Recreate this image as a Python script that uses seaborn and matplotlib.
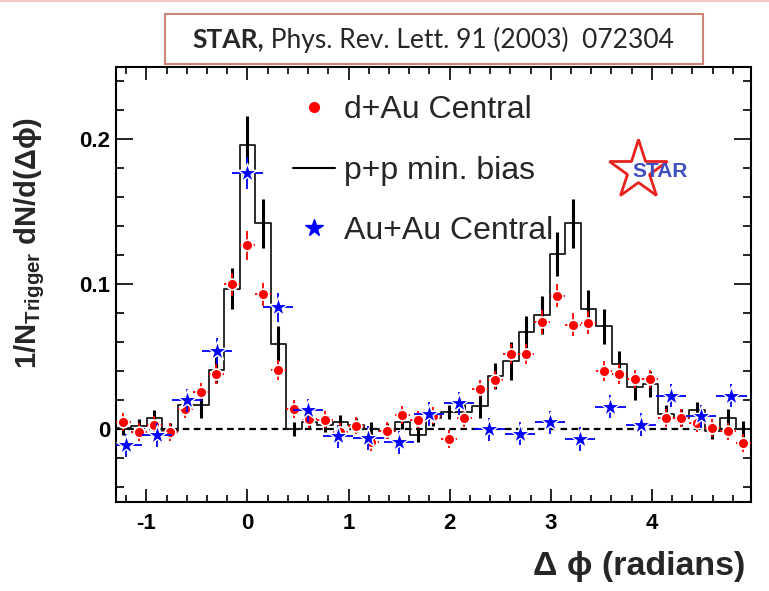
import numpy as np
import pandas as pd
import matplotlib
matplotlib.use("Agg")
import matplotlib.pyplot as plt
import seaborn as sns
from matplotlib.lines import Line2D
from matplotlib.patches import Rectangle
from matplotlib.ticker import MultipleLocator, FixedLocator, FixedFormatter

# ---------------- data ----------------
# p+p min. bias and d+Au central: 41 bins of width 2*pi/41, bin index -8 .. 32
pp_bin_index = list(range(-8, 33))
pp_values = [0.001, 0.002, 0.008, -0.001, 0.017, 0.017, 0.041, 0.097, 0.196, 0.142,
             0.059, 0.000, 0.005, 0.003, 0.005, 0.003, 0.000, -0.001, 0.005, -0.004,
             0.0075, 0.0117, 0.0117, 0.016, 0.037, 0.047, 0.067, 0.079, 0.121, 0.142,
             0.083, 0.071, 0.045, 0.029, 0.031, 0.0105, 0.008, 0.013, -0.001, 0.008,
             0.000]
pp_errors = [0.005, 0.005, 0.005, 0.005, 0.006, 0.009, 0.009, 0.014, 0.020, 0.017,
             0.012, 0.005, 0.005, 0.005, 0.005, 0.005, 0.005, 0.005, 0.005, 0.005,
             0.005, 0.005, 0.006, 0.008, 0.009, 0.013, 0.011, 0.013, 0.015, 0.017,
             0.013, 0.012, 0.009, 0.009, 0.009, 0.006, 0.006, 0.006, 0.006, 0.006,
             0.006]
dau_values = [0.005, -0.002, 0.003, -0.002, 0.014, 0.026, 0.038, 0.100, 0.127, 0.093,
              0.041, 0.014, 0.007, 0.0066, -0.002, 0.0025, -0.009, -0.001, 0.0098, 0.0066,
              0.0093, -0.0067, 0.0078, 0.028, 0.034, 0.052, 0.052, 0.074, 0.092, 0.072,
              0.0735, 0.040, 0.038, 0.0346, 0.0346, 0.0078, 0.0078, 0.004, 0.0007, -0.0014,
              -0.0096]
dau_errors = [0.006, 0.006, 0.006, 0.006, 0.006, 0.006, 0.007, 0.008, 0.010, 0.008,
              0.007, 0.006, 0.006, 0.006, 0.006, 0.006, 0.006, 0.006, 0.006, 0.006,
              0.006, 0.006, 0.006, 0.006, 0.006, 0.007, 0.007, 0.008, 0.008, 0.008,
              0.008, 0.007, 0.007, 0.006, 0.006, 0.006, 0.006, 0.006, 0.006, 0.006,
              0.006]
# Au+Au central: 21 bins of width 2*pi/21, bin index -4 .. 16
auau_bin_index = list(range(-4, 17))
auau_values = [-0.011, -0.004, 0.020, 0.054, 0.177, 0.084, 0.013, -0.005, -0.006, -0.009,
               0.0105, 0.018, 0.000, -0.003, 0.0048, -0.0067, 0.0155, 0.003, 0.023, 0.009,
               0.023]
auau_errors = [0.008, 0.008, 0.008, 0.009, 0.011, 0.010, 0.008, 0.008, 0.008, 0.008,
               0.008, 0.008, 0.008, 0.008, 0.008, 0.008, 0.008, 0.008, 0.008, 0.008,
               0.008]

legend_labels = ["d+Au Central", "p+p min. bias", "Au+Au Central"]
x_ticks = [-1, 0, 1, 2, 3, 4]
x_tick_labels = ["-1", "0", "1", "2", "3", "4"]
y_ticks = [0.0, 0.1, 0.2]
y_tick_labels = ["0", "0.1", "0.2"]
title_bold = "STAR,"
title_rest = " Phys. Rev. Lett. 91 (2003)  072304"
x_label = "\u0394 \u03d5 (radians)"
y_label = "1/N$_{\\mathbf{Trigger}}$ dN/d(\u0394\u03d5)"
logo_text = "STAR"

# ---------------- derived tables ----------------
w_fine = 2 * np.pi / 41
w_coarse = 2 * np.pi / 21
fine = pd.DataFrame({"x": np.array(pp_bin_index) * w_fine,
                     "pp": pp_values, "pp_err": pp_errors,
                     "dau": dau_values, "dau_err": dau_errors})
coarse = pd.DataFrame({"x": np.array(auau_bin_index) * w_coarse,
                       "auau": auau_values, "auau_err": auau_errors})
edges = np.append(fine["x"].values - w_fine / 2, fine["x"].values[-1] + w_fine / 2)
steps = pd.DataFrame({"edge": edges, "level": np.append(fine["pp"].values, fine["pp"].values[-1])})

# ---------------- style ----------------
sns.set_theme(style="ticks")
plt.rcParams["font.family"] = ["Liberation Sans", "DejaVu Sans"]
plt.rcParams["mathtext.fontset"] = "custom"
plt.rcParams["mathtext.rm"] = "Liberation Sans"
plt.rcParams["mathtext.bf"] = "Liberation Sans:bold"
plt.rcParams["mathtext.it"] = "Liberation Sans:italic"

fig = plt.figure(figsize=(7.69, 5.91), dpi=100)
ax = fig.add_axes([0.1505, 0.1511, 0.8261, 0.736])

# p+p histogram
sns.lineplot(data=steps, x="edge", y="level", drawstyle="steps-post", estimator=None,
             sort=False, color="#1a1a1a", linewidth=1.3, ax=ax, zorder=2)
ax.errorbar(fine["x"], fine["pp"], yerr=fine["pp_err"], fmt="none", ecolor="black",
            elinewidth=2.2, capsize=0, zorder=3)

# zero line
ax.axhline(0, color="black", lw=1.6, ls=(0, (3, 2)), zorder=1)

# d+Au
ax.errorbar(fine["x"], fine["dau"], xerr=w_fine / 2, yerr=fine["dau_err"], fmt="none",
            ecolor="red", elinewidth=1.3, capsize=0, zorder=4)
sns.scatterplot(data=fine, x="x", y="dau", color="red", marker="o", s=60,
                edgecolor="white", linewidth=1.2, ax=ax, zorder=5)

# Au+Au
ax.errorbar(coarse["x"], coarse["auau"], xerr=w_coarse / 2, yerr=coarse["auau_err"],
            fmt="none", ecolor="blue", elinewidth=1.3, capsize=0, zorder=6)
sns.scatterplot(data=coarse, x="x", y="auau", color="blue", marker="*", s=210,
                edgecolor="white", linewidth=1.0, ax=ax, zorder=7)

# axes ranges and ticks
ax.set_xlim(-8.5 * w_fine, 32.5 * w_fine)
ax.set_ylim(-0.05, 0.25)
ax.xaxis.set_major_locator(FixedLocator(x_ticks))
ax.xaxis.set_major_formatter(FixedFormatter(x_tick_labels))
ax.xaxis.set_minor_locator(MultipleLocator(0.2))
ax.yaxis.set_major_locator(FixedLocator(y_ticks))
ax.yaxis.set_major_formatter(FixedFormatter(y_tick_labels))
ax.yaxis.set_minor_locator(MultipleLocator(0.02))
ax.tick_params(which="both", direction="in", top=True, right=True, colors="black",
               width=1.2)
ax.tick_params(axis="x", which="major", length=9.5, pad=8, labelsize=16)
ax.tick_params(axis="x", which="minor", length=5)
ax.tick_params(axis="y", which="major", length=12, pad=4, labelsize=16)
ax.tick_params(axis="y", which="minor", length=6)
for lab in ax.get_xticklabels() + ax.get_yticklabels():
    lab.set_fontweight("bold")
for sp in ax.spines.values():
    sp.set_linewidth(1.5)
    sp.set_color("black")

ax.set_xlabel(x_label, fontsize=24.5, fontweight="bold", ha="right")
ax.xaxis.set_label_coords(0.9906, -0.150)
ax.xaxis.label.set_va("center")
ax.set_ylabel(y_label, fontsize=21, fontweight="bold")
ax.yaxis.set_label_coords(-0.135, 0.596)
ax.yaxis.label.set_va("center")

# legend
handles = [Line2D([], [], color="red", marker="o", ls="none", markersize=7),
           Line2D([], [], color="black", lw=1.5),
           Line2D([], [], color="blue", marker="*", ls="none", markersize=13)]
ax.legend(handles, legend_labels, loc="upper left", bbox_to_anchor=(0.2785, 0.934),
          frameon=False, fontsize=23, borderpad=0, borderaxespad=0,
          labelspacing=0.95, handlelength=1.32, handletextpad=0.28)

# STAR logo
ax.plot([0.8214], [0.7616], transform=ax.transAxes, marker="*", markersize=44,
        mfc="none", mec="#e8221c", mew=2.0, ls="none", clip_on=False)
ax.text(0.857, 0.759, logo_text, transform=ax.transAxes, ha="center", va="center",
        color="#3f4fbf", fontsize=15, fontweight="bold")

# title box
fig.patches.append(Rectangle((0.2146, 0.8917), 0.6996, 0.0846, transform=fig.transFigure,
                             fill=True, facecolor="white", edgecolor="#cc8577", lw=1.5))
fig.lines.append(Line2D([0, 1], [0.999, 0.999], transform=fig.transFigure,
                        color="#f5c9c4", lw=1.5))
t1 = fig.text(0.2496, 0.933, title_bold, fontsize=19, fontweight="bold",
              family=["Lato", "DejaVu Sans"], ha="left", va="center")
fig.canvas.draw()
bb = t1.get_window_extent()
fig.text(bb.x1 / fig.bbox.width, 0.933, title_rest, fontsize=19,
         family=["Lato", "DejaVu Sans"], ha="left", va="center")

fig.savefig("out.png", dpi=100)
